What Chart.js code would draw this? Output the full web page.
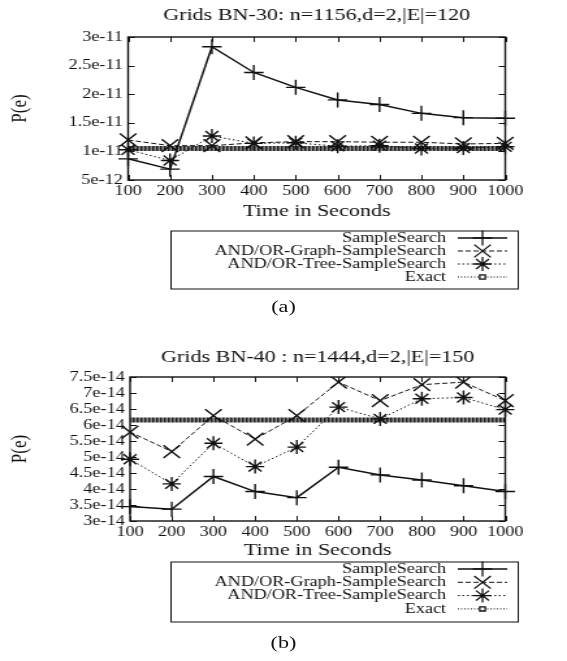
<!DOCTYPE html>
<html>
<head>
<meta charset="utf-8">
<script src="https://cdn.jsdelivr.net/npm/chart.js@4.4.1/dist/chart.umd.min.js"></script>
<style>
  html, body { margin: 0; padding: 0; background: #fff; }
  body { width: 567px; height: 661px; overflow: hidden; position: relative; }
  /* the source figure is stretched sideways; draw narrow, then widen */
  #fig { position: absolute; left: 0; top: 0; width: 436px; height: 661px;
         transform: scaleX(1.3005); transform-origin: 0 0; }
  canvas { position: absolute; left: 0; }
  #cA { top: 0; }
  #cB { top: 340px; }
  .cap { position: absolute; left: 0; width: 436px; text-align: center;
         font: 17px "Liberation Serif", serif; color: #111; line-height: 20px; }
</style>
</head>
<body>
<div id="fig">
  <canvas id="cA" width="436" height="330"></canvas>
  <canvas id="cB" width="436" height="321"></canvas>
  <div class="cap" style="top:297px">(a)</div>
  <div class="cap" style="top:633px">(b)</div>
</div>
<script>
// ---- data ----
const TIMES = [100, 200, 300, 400, 500, 600, 700, 800, 900, 1000];
const SERIES_NAMES = ["SampleSearch", "AND/OR-Graph-SampleSearch", "AND/OR-Tree-SampleSearch", "Exact"];

// (a) Grids BN-30
const A_SAMPLE = [8.7e-12, 6.9e-12, 2.83e-11, 2.38e-11, 2.12e-11, 1.9e-11, 1.82e-11, 1.665e-11, 1.59e-11, 1.58e-11];
const A_GRAPH  = [1.2e-11, 1.1e-11, 1.1e-11, 1.15e-11, 1.17e-11, 1.17e-11, 1.16e-11, 1.16e-11, 1.13e-11, 1.14e-11];
const A_TREE   = [1.03e-11, 8.4e-12, 1.27e-11, 1.14e-11, 1.15e-11, 1.09e-11, 1.1e-11, 1.05e-11, 1.06e-11, 1.08e-11];
const A_EXACT  = [1.05e-11, 1.05e-11, 1.05e-11, 1.05e-11, 1.05e-11, 1.05e-11, 1.05e-11, 1.05e-11, 1.05e-11, 1.05e-11];
const A_YTICKS = [5e-12, 1e-11, 1.5e-11, 2e-11, 2.5e-11, 3e-11];
const A_YLABELS = ["5e-12", "1e-11", "1.5e-11", "2e-11", "2.5e-11", "3e-11"];

// (b) Grids BN-40
const B_SAMPLE = [3.45e-14, 3.37e-14, 4.39e-14, 3.92e-14, 3.73e-14, 4.68e-14, 4.44e-14, 4.28e-14, 4.1e-14, 3.92e-14];
const B_GRAPH  = [5.78e-14, 5.17e-14, 6.29e-14, 5.56e-14, 6.29e-14, 7.34e-14, 6.76e-14, 7.26e-14, 7.34e-14, 6.76e-14];
const B_TREE   = [4.93e-14, 4.16e-14, 5.43e-14, 4.7e-14, 5.31e-14, 6.56e-14, 6.19e-14, 6.82e-14, 6.86e-14, 6.48e-14];
const B_EXACT  = [6.16e-14, 6.16e-14, 6.16e-14, 6.16e-14, 6.16e-14, 6.16e-14, 6.16e-14, 6.16e-14, 6.16e-14, 6.16e-14];
const B_YTICKS = [3e-14, 3.5e-14, 4e-14, 4.5e-14, 5e-14, 5.5e-14, 6e-14, 6.5e-14, 7e-14, 7.5e-14];
const B_YLABELS = ["3e-14", "3.5e-14", "4e-14", "4.5e-14", "5e-14", "5.5e-14", "6e-14", "6.5e-14", "7e-14", "7.5e-14"];

const SERIF = "'Liberation Serif', 'Times New Roman', serif";
const INK = "#111";

// hatched band used for the "Exact" line (gnuplot packs tiny boxes there)
function hatch() {
  const c = document.createElement("canvas");
  c.width = 3; c.height = 6;
  const g = c.getContext("2d");
  g.fillStyle = "#8c8c8c"; g.fillRect(0, 0, 3, 6);
  g.fillStyle = "#1e1e1e"; g.fillRect(0, 0, 1.5, 6);
  return g.createPattern(c, "repeat");
}

// box around the plot + gnuplot-style inward ticks on all four sides
const framePlugin = {
  id: "frame",
  afterDatasetsDraw(chart) {
    const { ctx, chartArea: a, scales: { x, y } } = chart;
    const L = 5;
    ctx.save();
    ctx.strokeStyle = INK;
    ctx.lineWidth = 1;
    ctx.beginPath();
    x.ticks.forEach((t, i) => {
      const px = Math.round(x.getPixelForTick(i)) + 0.5;
      ctx.moveTo(px, a.bottom); ctx.lineTo(px, a.bottom - L);
      ctx.moveTo(px, a.top); ctx.lineTo(px, a.top + L);
    });
    y.ticks.forEach((t) => {
      const py = Math.round(y.getPixelForValue(t.value)) + 0.5;
      ctx.moveTo(a.left, py); ctx.lineTo(a.left + L, py);
      ctx.moveTo(a.right, py); ctx.lineTo(a.right - L, py);
    });
    ctx.stroke();
    ctx.lineWidth = 1.4;
    ctx.strokeRect(a.left, a.top, a.right - a.left, a.bottom - a.top);
    ctx.restore();
  },
};

// gnuplot key: right-aligned names, line sample to the right, framed
const keyPlugin = {
  id: "boxKey",
  afterDraw(chart, args, o) {
    const { ctx } = chart;
    ctx.save();
    ctx.strokeStyle = INK;
    ctx.lineWidth = 1;
    ctx.strokeRect(o.x0, o.y0, o.x1 - o.x0, o.h);
    ctx.font = "14px " + SERIF;
    ctx.textAlign = "right";
    ctx.textBaseline = "middle";
    chart.data.datasets.forEach((ds, i) => {
      const yy = o.row0 + i * o.rowH;
      const st = ds.keyStyle;
      ctx.fillStyle = INK;
      ctx.fillText(ds.label, o.textRight, yy);
      ctx.setLineDash(st.dash);
      ctx.lineWidth = st.width;
      ctx.beginPath();
      ctx.moveTo(o.s0, yy); ctx.lineTo(o.s1, yy);
      ctx.stroke();
      ctx.setLineDash([]);
      ctx.lineWidth = 1.3;
      ctx.fillStyle = "#fff";
      Chart.helpers.drawPoint(ctx, { pointStyle: st.point, radius: st.radius, borderWidth: 1.3, rotation: 0 },
        (o.s0 + o.s1) / 2, yy);
    });
    ctx.restore();
  },
};

function series(sample, graph, tree, exact) {
  const band = hatch();
  const base = { borderColor: INK, pointBorderColor: INK, pointBackgroundColor: "#fff",
                 fill: false, tension: 0, pointBorderWidth: 1.4 };
  return [
    { ...base, label: SERIES_NAMES[0], data: sample, borderWidth: 1.5,
      pointStyle: "cross", pointRadius: 7.5,
      keyStyle: { dash: [], width: 1.5, point: "cross", radius: 7.5 } },
    { ...base, label: SERIES_NAMES[1], data: graph, borderWidth: 1, borderDash: [4, 2],
      pointStyle: "crossRot", pointRadius: 9,
      keyStyle: { dash: [4, 2], width: 1, point: "crossRot", radius: 9 } },
    { ...base, label: SERIES_NAMES[2], data: tree, borderWidth: 1, borderDash: [1.5, 2],
      pointStyle: "star", pointRadius: 7,
      keyStyle: { dash: [1.5, 2], width: 1, point: "star", radius: 7 } },
    { ...base, label: SERIES_NAMES[3], data: exact, borderWidth: 5, borderColor: band,
      pointRadius: 0,
      keyStyle: { dash: [1, 1.5], width: 1, point: "rect", radius: 3 } },
  ];
}

function plot(id, c) {
  const font = (s) => ({ family: SERIF, size: s });
  return new Chart(document.getElementById(id), {
    type: "line",
    data: { labels: TIMES, datasets: c.datasets },
    options: {
      responsive: false,
      animation: false,
      layout: { padding: { left: 0, right: c.padRight, top: 0, bottom: c.padBottom } },
      plugins: {
        legend: { display: false },
        tooltip: { enabled: false },
        title: { display: true, text: c.title, fullSize: false, color: INK, font: { ...font(17), weight: "normal" },
                 padding: { top: c.titleTop, bottom: c.titleGap } },
        boxKey: c.key,
      },
      scales: {
        x: {
          offset: false,
          grid: { display: false, drawTicks: false },
          border: { display: false },
          ticks: { color: INK, font: font(14), padding: 3, maxRotation: 0, autoSkip: false },
          title: { display: true, text: "Time in Seconds", color: INK, font: font(17), padding: { top: 0, bottom: 0 } },
          afterFit: (s) => { s.height = c.xHeight; },
        },
        y: {
          min: c.yTicks[0], max: c.yTicks[c.yTicks.length - 1],
          grid: { display: false, drawTicks: false },
          border: { display: false },
          afterBuildTicks: (s) => { s.ticks = c.yTicks.map((v) => ({ value: v })); },
          ticks: { color: INK, font: font(14), padding: 4, autoSkip: false,
                   callback: (v, i) => c.yLabels[i] },
          title: { display: true, text: "P(e)", color: INK, font: font(17), padding: { top: 5, bottom: 0 } },
          afterFit: (s) => { s.width = c.yWidth; },
        },
      },
    },
    plugins: [framePlugin, keyPlugin],
  });
}

plot("cA", {
  title: "Grids BN-30: n=1156,d=2,|E|=120",
  datasets: series(A_SAMPLE, A_GRAPH, A_TREE, A_EXACT),
  yTicks: A_YTICKS, yLabels: A_YLABELS,
  titleTop: 5, titleGap: 11.6, yWidth: 98.5, padRight: 47.5,
  xHeight: 42.2, padBottom: 107.8,
  key: { x0: 131.5, x1: 398.5, y0: 231, h: 58, textRight: 343, s0: 352, s1: 390, row0: 238, rowH: 13 },
});

plot("cB", {
  title: "Grids BN-40 : n=1444,d=2,|E|=150",
  datasets: series(B_SAMPLE, B_GRAPH, B_TREE, B_EXACT),
  yTicks: B_YTICKS, yLabels: B_YLABELS,
  titleTop: 7, titleGap: 9.6, yWidth: 100, padRight: 47.5,
  xHeight: 40.2, padBottom: 99.8,
  key: { x0: 131.5, x1: 398.5, y0: 222, h: 60, textRight: 343, s0: 352, s1: 390, row0: 229, rowH: 13.3 },
});
</script>
</body>
</html>
